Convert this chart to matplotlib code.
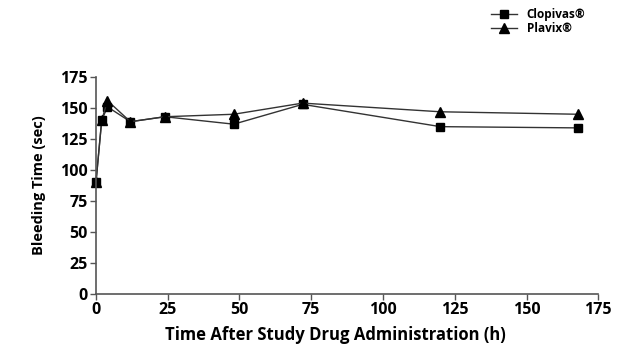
import matplotlib
matplotlib.use("Agg")
import matplotlib.pyplot as plt

hours = [0, 2, 4, 12, 24, 48, 72, 120, 168]
clopivas = [90, 140, 151, 139, 143, 137, 153, 135, 134]
plavix = [90, 140, 156, 139, 143, 145, 154, 147, 145]

xticks = [0, 25, 50, 75, 100, 125, 150, 175]
yticks = [0, 25, 50, 75, 100, 125, 150, 175]

plt.rcParams['font.family'] = ['Open Sans', 'DejaVu Sans']

fig = plt.figure(figsize=(6.44, 3.52), dpi=100)
ax = fig.add_axes([0.149, 0.165, 0.78, 0.616])

ax.plot(hours, clopivas, color='#333333', lw=1, marker='s', ms=6,
        mfc='black', mec='black', label='Clopivas\u00ae', clip_on=False)
ax.plot(hours, plavix, color='#333333', lw=1, marker='^', ms=7,
        mfc='black', mec='black', label='Plavix\u00ae', clip_on=False)

ax.set_xlim(0, 175)
ax.set_ylim(0, 175)
ax.set_xticks(xticks)
ax.set_yticks(yticks)
for s in ['top', 'right']:
    ax.spines[s].set_visible(False)
for s in ['left', 'bottom']:
    ax.spines[s].set_color('#555555')
    ax.spines[s].set_linewidth(1.2)
ax.tick_params(color='#555555', length=4, width=1, labelsize=11.5, pad=2)
for lab in ax.get_xticklabels() + ax.get_yticklabels():
    lab.set_fontweight('bold')
ax.set_xlabel('Time After Study Drug Administration (h)', fontsize=12,
              fontweight='bold', labelpad=6)
ax.xaxis.set_label_coords(0.476, -0.15)
ax.set_ylabel('Bleeding Time (sec)', fontsize=10.5, fontweight='bold',
              labelpad=10)

fig.legend(loc='upper left', bbox_to_anchor=(0.75, 1.0), frameon=False,
           prop={'weight': 'bold', 'size': 8.5}, handlelength=2.2,
           labelspacing=0.1, borderaxespad=0.3)

fig.savefig('out.png', dpi=100)
